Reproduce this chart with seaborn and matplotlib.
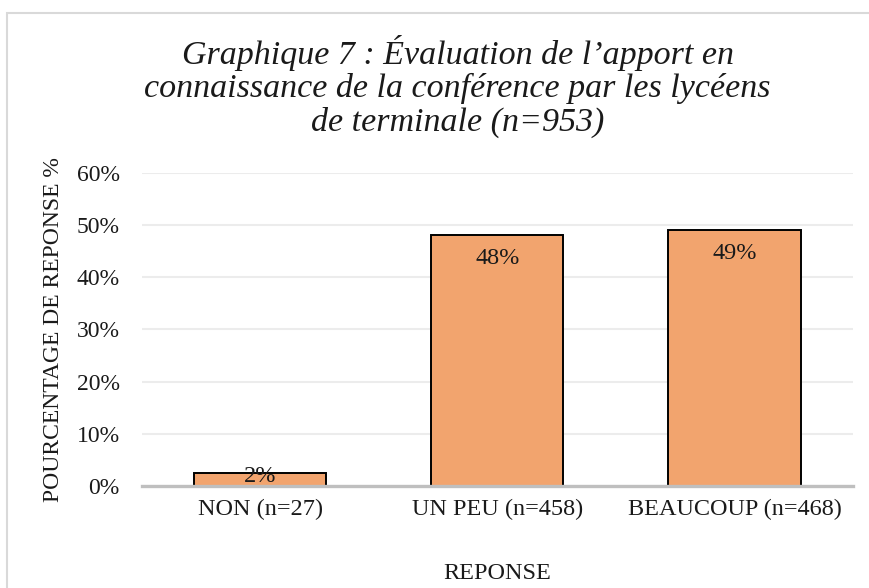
import numpy as np
import pandas as pd
import seaborn as sns
import matplotlib.pyplot as plt
from matplotlib.patches import Rectangle

# donnees
reponses = ['NON (n=27)', 'UN PEU (n=458)', 'BEAUCOUP (n=468)']
pourcentages = [2.4, 48.1, 49.1]
etiquettes = ['2%', '48%', '49%']
yticks = [0, 10, 20, 30, 40, 50, 60]

df = pd.DataFrame({'reponse': reponses, 'pct': pourcentages})

sns.set_theme(style='white')
plt.rcParams['font.family'] = ['Liberation Serif', 'DejaVu Serif']

fig = plt.figure(figsize=(8.7, 5.88), dpi=100)
ax = fig.add_axes([0.163, 0.1735, 0.8175, 0.5328])

sns.barplot(data=df, x='reponse', y='pct', color='#F2A46E', saturation=1,
            edgecolor='black', linewidth=1.4, width=0.557, ax=ax, zorder=3)

ax.set_ylim(0, 60)
ax.set_xlim(-0.5, 2.5)
ax.set_yticks(yticks)
ax.set_yticklabels([f'{t}%' for t in yticks], fontsize=17, color='#1a1a1a')
ax.tick_params(axis='x', labelsize=17.5, colors='#1a1a1a', pad=9, length=0)
ax.tick_params(axis='y', pad=16, length=0)
ax.grid(axis='y', color='#ececec', linewidth=1.5, zorder=0)
for s in ['top', 'right', 'left']:
    ax.spines[s].set_visible(False)
ax.spines['bottom'].set_color('#bfbfbf')
ax.spines['bottom'].set_linewidth(2.4)
ax.spines['bottom'].set_zorder(4)

# etiquettes de valeur
for i, (v, lab) in enumerate(zip(pourcentages, etiquettes)):
    ax.text(i, max(v - 4.6, 1.9), lab, ha='center', va='center',
            fontsize=17.5, color='#1a1a1a', zorder=5)

ax.set_xlabel('REPONSE', fontsize=17.5, color='#1a1a1a', labelpad=31)
ax.set_ylabel('POURCENTAGE DE REPONSE %', fontsize=17, color='#1a1a1a', labelpad=9)

fig.text(0.526, 0.853,
         "Graphique 7 : Évaluation de l’apport en\nconnaissance de la conférence par les lycéens\nde terminale (n=953)",
         ha='center', va='center', fontsize=24.5, style='italic', color='#1a1a1a',
         linespacing=1.1)

fig.patches.append(Rectangle((7.5 / 870, -0.1), 1.2, 1.1 - 12.7 / 588,
                             transform=fig.transFigure, fill=False,
                             edgecolor='#d9d9d9', linewidth=1.5))

fig.savefig('out.png', dpi=100)
